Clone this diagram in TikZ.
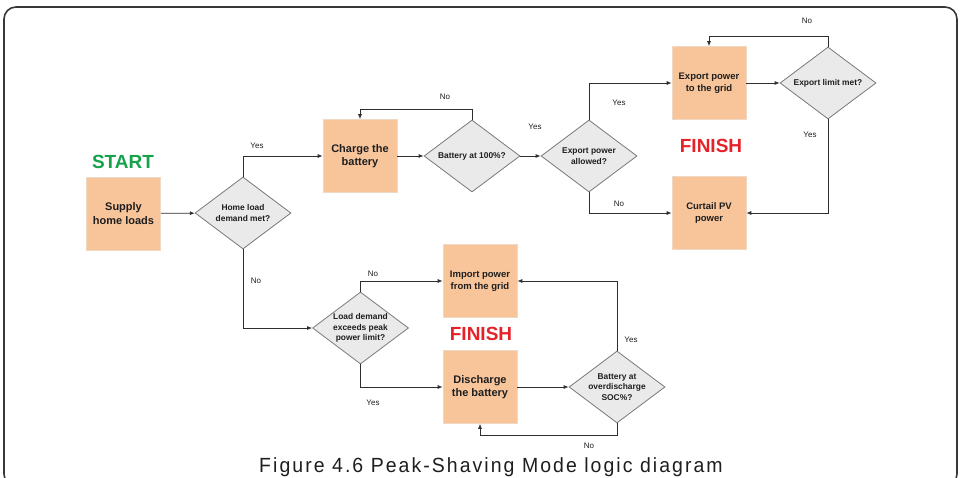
\documentclass[tikz,border=0pt]{standalone}
\usepackage{fontspec}
\setmainfont{Liberation Sans}
\newfontfamily\capfont[LetterSpace=10,FakeStretch=0.95]{Liberation Sans}
\usetikzlibrary{shapes.geometric,arrows.meta}
\definecolor{peach}{HTML}{F8C59B}
\definecolor{peachline}{HTML}{EFD8C4}
\definecolor{dfill}{HTML}{EAEAEA}
\definecolor{dline}{HTML}{7A7A7A}
\definecolor{conn}{HTML}{2E2E2E}
\definecolor{startgreen}{HTML}{16A24A}
\definecolor{finishred}{HTML}{E52229}
\definecolor{txt}{HTML}{1E1E1E}
\tikzset{
  box/.style={rectangle, fill=peach, draw=peachline, line width=0.6pt,
    minimum width=74pt, minimum height=73pt, inner sep=0pt, align=center,
    text=txt, font=\fontsize{11}{13.5}\selectfont\bfseries},
  sbox/.style={box, font=\fontsize{9.5}{12}\selectfont\bfseries},
  dia/.style={diamond, fill=dfill, draw=dline, line width=0.8pt,
    minimum width=96pt, minimum height=72pt, inner sep=0pt},
  dtext/.style={align=center, text=txt, inner sep=0pt,
    font=\fontsize{8.4}{10.5}\selectfont\bfseries},
  lbl/.style={text=txt, inner sep=0pt, font=\fontsize{8}{9}\selectfont},
  big/.style={inner sep=0pt, font=\fontsize{19}{20}\selectfont\bfseries},
  arr/.style={draw=conn, line width=0.8pt, -{Latex[length=5pt,width=4pt]}},
}
\begin{document}
\begin{tikzpicture}[x=1pt,y=-1pt]
\useasboundingbox (0,0) rectangle (960,478);
\draw[line width=1.6pt, draw=black!78, rounded corners=12pt] (4,7) rectangle (957,486);

% top row
\node[big, text=startgreen] (start) at (123,162) {START};
\node[box] (sup) at (123.5,213.5) {Supply\\home loads};
\node[dia] (home) at (243,213) {};
\node[dtext] (homet) at (home.center) {Home load\\demand met?};
\node[box] (chg) at (360,156) {Charge the\\battery};
\node[dia] (b100) at (472,156) {};
\node[dtext] (b100t) at (b100.center) {Battery at 100\%?};
\node[dia] (exp) at (589,156) {};
\node[dtext] (expt) at (exp.center) {Export power\\allowed?};
\node[sbox] (egrid) at (709,83) {Export power\\to the grid};
\node[dia] (elim) at (828,83) {};
\node[dtext] (elimt) at (elim.center) {Export limit met?};
\node[sbox] (curt) at (709,213) {Curtail PV\\power};
\node[big, text=finishred] (fin1) at (711,146) {FINISH};

% bottom row
\node[dia] (load) at (360.5,328) {};
\node[dtext] (loadt) at (load.center) {Load demand\\exceeds peak\\power limit?};
\node[sbox] (imp) at (480,281) {Import power\\from the grid};
\node[big, text=finishred] (fin2) at (481,334) {FINISH};
\node[box] (dis) at (480,387) {Discharge\\the battery};
\node[dia] (bod) at (617,387) {};
\node[dtext] (bodt) at (bod.center) {Battery at\\overdischarge\\SOC\%?};

% connectors
\draw[arr] (sup) -- (home);
\draw[arr] (home.north) |- (chg.west);
\draw[arr] (chg) -- (b100);
\draw[arr] (b100.north) -- ++(0,-10) -| (chg.north);
\draw[arr] (b100.east) -- (exp.west);
\draw[arr] (exp.north) |- (egrid.west);
\draw[arr] (egrid) -- (elim);
\draw[arr] (elim.north) -- ++(0,-10) -| (egrid.north);
\draw[arr] (elim.south) |- (curt.east);
\draw[arr] (exp.south) |- (curt.west);
\draw[arr] (home.south) |- (load.west);
\draw[arr] (load.north) |- (imp.west);
\draw[arr] (load.south) |- (dis.west);
\draw[arr] (dis.east) -- (bod.west);
\draw[arr] (bod.north) |- (imp.east);
\draw[arr] (bod.south) -- ++(0,12) -| (dis.south);

% labels
\node[lbl] (l1) at (257,146) {Yes};
\node[lbl] (l2) at (445,97) {No};
\node[lbl] (l3) at (535,127) {Yes};
\node[lbl] (l4) at (619,103) {Yes};
\node[lbl] (l5) at (807,21) {No};
\node[lbl] (l6) at (810,135) {Yes};
\node[lbl] (l7) at (619,204) {No};
\node[lbl] (l8) at (256,281) {No};
\node[lbl] (l9) at (373,274) {No};
\node[lbl] (l10) at (373,403) {Yes};
\node[lbl] (l11) at (631,340) {Yes};
\node[lbl] (l12) at (589,446) {No};

\node[inner sep=0pt, anchor=base, text=txt, font=\capfont\fontsize{20.5}{22}\selectfont] (cap) at (491,472.3) {Figure 4.6 Peak-Shaving Mode logic diagram};
\end{tikzpicture}
\end{document}
